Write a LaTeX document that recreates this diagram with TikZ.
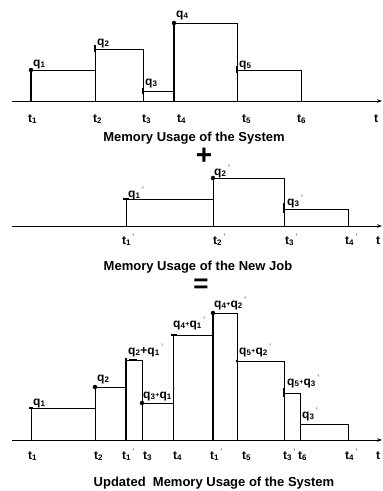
\documentclass[tikz,border=0pt]{standalone}
\usepackage{fontspec}
\setmainfont{Liberation Sans}
\usetikzlibrary{arrows.meta}
\newcommand\qq[2]{q\textsubscript{#1}#2}
\newcommand\myprm{\textsuperscript{\color{gray}\,'}}
\newcommand\smplus{\raisebox{0.1ex}{\fontsize{7}{7}\selectfont +}}
\begin{document}
\begin{tikzpicture}[x=1pt,y=-1pt,
  ln/.style={line width=0.9pt},
  thk/.style={line width=1.8pt},
  ax/.style={line width=0.8pt,-{Stealth[length=5pt,width=3.5pt]}},
  lab/.style={anchor=base west, inner sep=0pt, font=\bfseries\fontsize{12}{12}\selectfont},
  ttl/.style={anchor=base, inner sep=0pt, font=\bfseries\fontsize{13}{14}\selectfont},
  dot/.style={circle, fill, inner sep=0pt, minimum size=4.5pt}]
\useasboundingbox (0,0) rectangle (383,491);
% ---------------- Panel 1 ----------------
\draw[ax] (12,101) -- (382,101);
\draw[ln] (31,101) -- (31,70) -- (95,70);
\draw[ln] (95,101) -- (95,49) -- (143,49) -- (143,101);
\draw[ln] (143,91) -- (174,91);
\draw[ln] (174,101) -- (174,23) -- (237,23) -- (237,101);
\draw[ln] (237,70) -- (301,70) -- (301,101);
\draw[thk] (31,101) -- (31,72);
\draw[thk] (174,101) -- (174,25);
\node[dot] (d1) at (31,70) {};
\node[dot] (d2) at (174,23) {};
\draw[thk] (95,45) -- (95,52);
\draw[thk] (143,88) -- (143,94);
\draw[thk] (237,66) -- (237,73);
\node[lab] (p1q1) at (33,66) {\qq{1}{}};
\node[lab] (p1q2) at (97,45) {\qq{2}{}};
\node[lab] (p1q3) at (145,85) {\qq{3}{}};
\node[lab] (p1q4) at (176,17) {\qq{4}{}};
\node[lab] (p1q5) at (239,67) {\qq{5}{}};
\node[lab] (p1t1) at (28,122) {t\textsubscript{1}};
\node[lab] (p1t2) at (93,122) {t\textsubscript{2}};
\node[lab] (p1t3) at (142,122) {t\textsubscript{3}};
\node[lab] (p1t4) at (177,122) {t\textsubscript{4}};
\node[lab] (p1t5) at (242,122) {t\textsubscript{5}};
\node[lab] (p1t6) at (297,122) {t\textsubscript{6}};
\node[lab] (p1t) at (374,122) {t};
\node[ttl] (title1) at (194,141) {Memory Usage of the System};
\node[inner sep=0pt, font=\bfseries\fontsize{28}{28}\selectfont] (plus) at (204,156) {+};
% ---------------- Panel 2 ----------------
\draw[ax] (12,226) -- (382,226);
\draw[ln] (126,226) -- (126,199) -- (213,199);
\draw[ln] (213,226) -- (213,178) -- (284,178) -- (284,226);
\draw[ln] (284,209) -- (348,209) -- (348,226);
\node[dot] (d3) at (213,178) {};
\draw[thk] (123,199) -- (129,199);
\draw[thk] (284,203) -- (284,213);
\node[lab] (p2q1) at (128,197) {\qq{1}{\myprm}};
\node[lab] (p2q2) at (214,175) {\qq{2}{\myprm}};
\node[lab] (p2q3) at (287,205) {\qq{3}{\myprm}};
\node[lab] (p2t1) at (122,244) {t\textsubscript{1}\myprm};
\node[lab] (p2t2) at (213,244) {t\textsubscript{2}\myprm};
\node[lab] (p2t3) at (285,244) {t\textsubscript{3}\myprm};
\node[lab] (p2t4) at (345,244) {t\textsubscript{4}\myprm};
\node[lab] (p2t) at (376,244) {t};
\node[ttl] (title2) at (198,270) {Memory Usage of the New Job};
\node[inner sep=0pt, font=\bfseries\fontsize{26}{26}\selectfont] (eq) at (201,286) {=};
% ---------------- Panel 3 ----------------
\draw[ax] (12,440) -- (382,440);
\draw[ln] (31,440) -- (31,408) -- (95,408);
\draw[ln] (95,440) -- (95,387) -- (126,387);
\draw[ln] (126,440) -- (126,360) -- (142,360) -- (142,440);
\draw[ln] (142,403) -- (173,403);
\draw[ln] (173,440) -- (173,335) -- (213,335);
\draw[ln] (213,440) -- (213,313) -- (237,313) -- (237,440);
\draw[ln] (237,361) -- (284,361) -- (284,440);
\draw[ln] (284,393) -- (300,393) -- (300,440);
\draw[ln] (300,424) -- (348,424) -- (348,440);
\draw[thk] (126,440) -- (126,358);
\draw[thk] (213,440) -- (213,315);
\draw[thk] (284,388) -- (284,397);
\draw[thk] (29,408) -- (33,408);
\draw[thk] (171,335) -- (177,335);
\draw[thk] (129,360) -- (137,360);
\node[dot] (d4) at (95,387) {};
\node[dot] (d5) at (142,403) {};
\node[dot] (d6) at (213,313) {};
\node[dot, minimum size=3pt] (d7) at (237,361) {};
\node[lab] (p3a) at (33,405) {\qq{1}{}};
\node[lab] (p3b) at (97,381) {\qq{2}{}};
\node[lab] (p3c) at (128,354) {\qq{2}{+}\qq{1}{\myprm}};
\node[lab] (p3d) at (143,398) {\qq{3}{\smplus}\qq{1}{\myprm}};
\node[lab] (p3e) at (173,327) {\qq{4}{\smplus}\qq{1}{\myprm}};
\node[lab] (p3f) at (214,307) {\qq{4}{\smplus}\qq{2}{\myprm}};
\node[lab] (p3g) at (239,354) {\qq{5}{\smplus}\qq{2}{\myprm}};
\node[lab] (p3h) at (287,385) {\qq{5}{\smplus}\qq{3}{\myprm}};
\node[lab] (p3i) at (302,418) {\qq{3}{\myprm}};
\node[lab] (p3t1) at (28,459) {t\textsubscript{1}};
\node[lab] (p3t2) at (94,459) {t\textsubscript{2}};
\node[lab] (p3t1p) at (122,459) {t\textsubscript{1}\myprm};
\node[lab] (p3t3) at (143,459) {t\textsubscript{3}};
\node[lab] (p3t4) at (173,459) {t\textsubscript{4}};
\node[lab] (p3t1q) at (210,459) {t\textsubscript{1}\myprm};
\node[lab] (p3t5) at (242,459) {t\textsubscript{5}};
\node[lab] (p3t3p) at (283,459) {t\textsubscript{3}\myprm};
\node[lab] (p3t6) at (298,459) {t\textsubscript{6}};
\node[lab] (p3t4p) at (345,459) {t\textsubscript{4}\myprm};
\node[lab] (p3t) at (376,459) {t};
\node[ttl] (title3) at (214,486) {Updated\ \ Memory Usage of the System};
\end{tikzpicture}
\end{document}
